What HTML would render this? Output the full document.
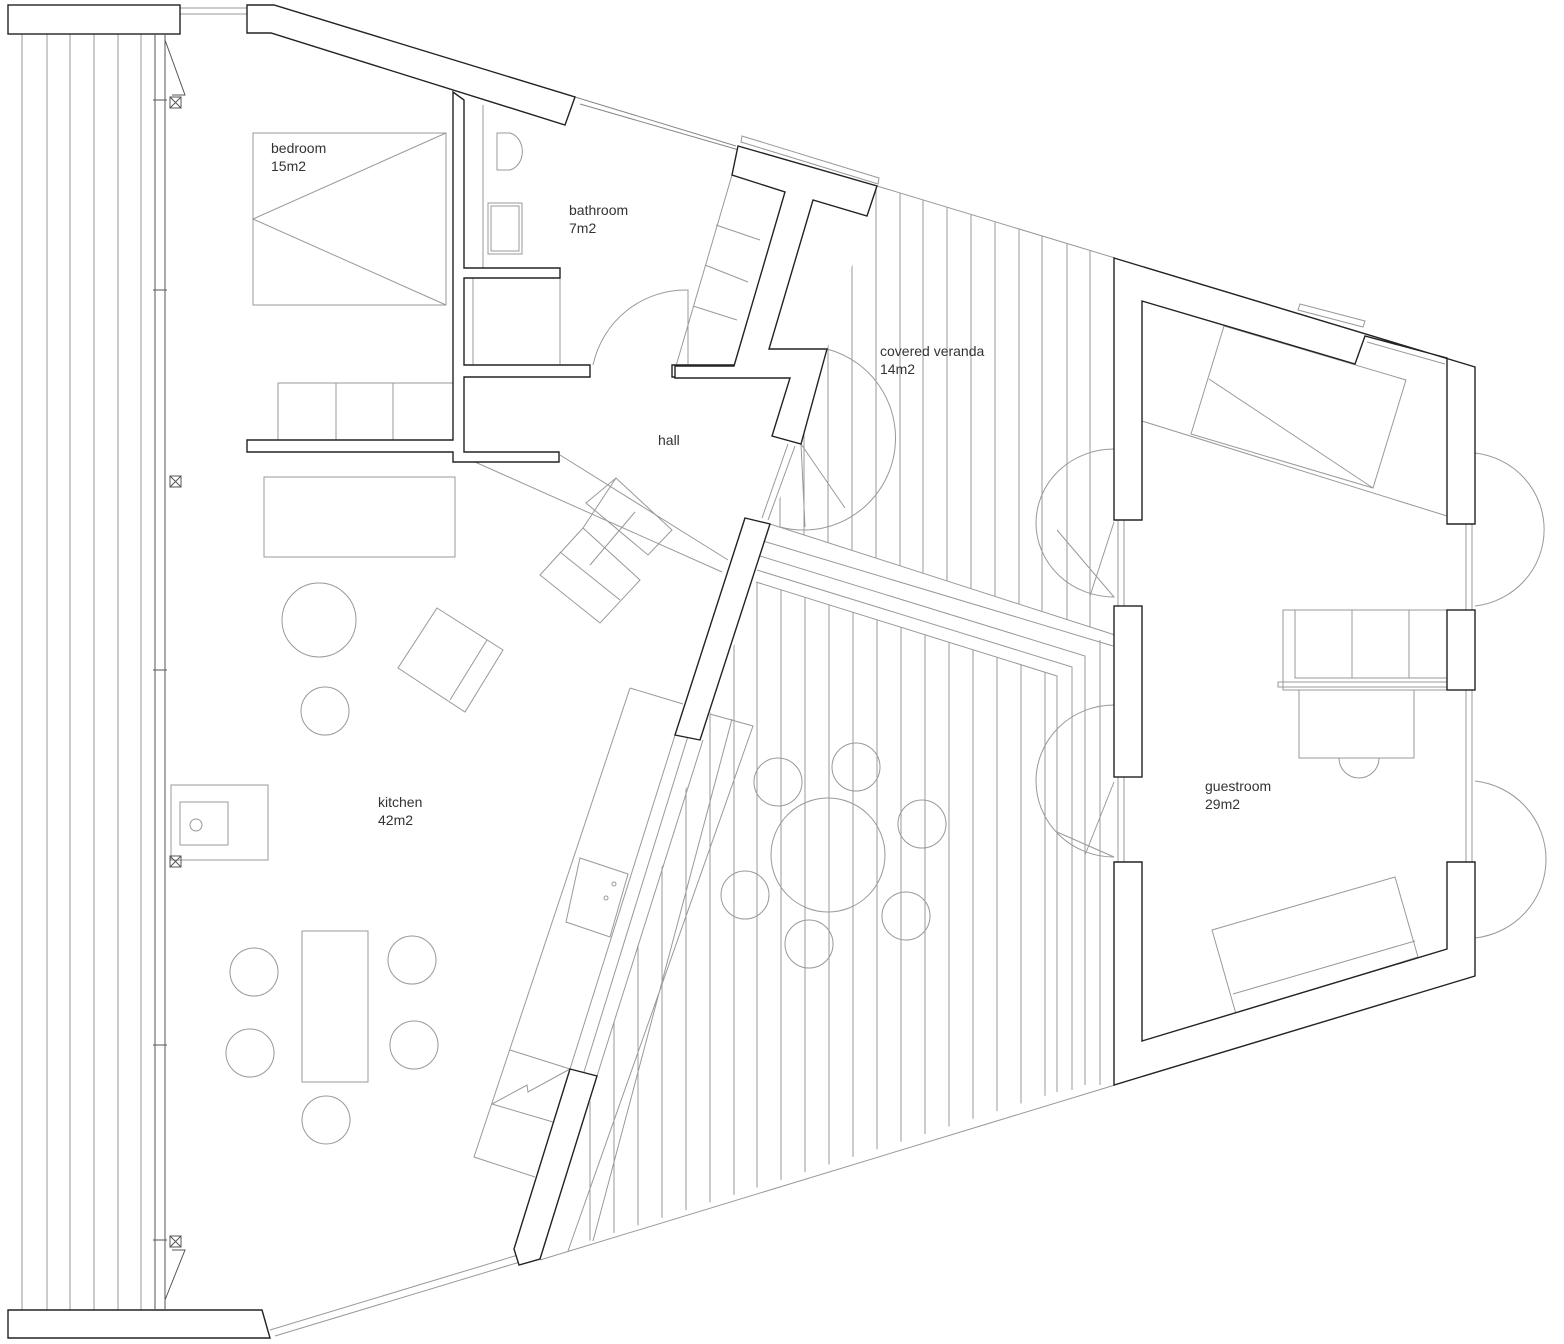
<!DOCTYPE html>
<html><head><meta charset="utf-8"><style>
html,body{margin:0;padding:0;background:#fff}
svg{display:block}
text{font-family:"Liberation Sans",sans-serif;font-size:14px;fill:#333}
</style></head><body>
<svg width="1564" height="1344" viewBox="0 0 1564 1344" xmlns="http://www.w3.org/2000/svg">
<defs>
<clipPath id="upv"><polygon points="877,186 1115,258 1115,635 770,524 800,444 827,349 867,216"/></clipPath>
<clipPath id="lov"><polygon points="756,582 1057,676 1057,1092 545,1255 598,1075 700,742"/></clipPath>
</defs>
<g fill="none" stroke="#999" stroke-width="1">
<g clip-path="url(#upv)">
<path d="M780 150V700M804 150V700M828 150V700M852 150V700M876 150V700M900 150V700M923 150V700M947 150V700M971 150V700M995 150V700M1019 150V700M1042 150V700M1067 150V700M1090 150V700"/>
</g>
<g clip-path="url(#lov)">
<path d="M590 560V1300M614 560V1300M638 560V1300M662 560V1300M686 560V1300M710 560V1300M734 560V1300M757 560V1300M781 560V1300M805 560V1300M829 560V1300M853 560V1300M877 560V1300M901 560V1300M925 560V1300M949 560V1300M973 560V1300M997 560V1300M1021 560V1300M1045 560V1300"/>
</g>
<path d="M877 186L1115 258M770 524L1115 635M763 541L1113 646M760 556L1085 656L1085 1085M757 570L1072 667L1072 1090M756 582L1057 676L1057 1092M540 1260L1115 1085M1100 640V1085"/>
<path d="M736 146L575 97M739 150L580 104" stroke="#888"/>
<path d="M742 136L879 178L878 184L741 142Z"/>
<path d="M1300 304L1365 321L1363 327L1298 310Z"/>
<path d="M22 34V1310M47 34V1310M70 34V1310M94 34V1310M118 34V1310M141 34V1310"/>
<path d="M180 8H247M180 14H247"/>
<path d="M270 1330L518 1255M275 1336L520 1262"/>
<rect x="253" y="133" width="193" height="172"/>
<path d="M446 133L253 219L446 305"/>
<path d="M497 133H510A16 19 0 0 1 510 170H497Z"/>
<rect x="488" y="203" width="34" height="51"/><rect x="491" y="206" width="28" height="45"/>
<path d="M483 105V268"/>
<rect x="473" y="278" width="87" height="87"/>
<path d="M593 365A95 95 0 0 1 688 290V365"/>
<rect x="278" y="383" width="175" height="57"/><path d="M336 383V440M393 383V440"/>
<rect x="250" y="443" width="93" height="7"/>
<path d="M475 462L722 572M560 455L728 560"/>
<polygon points="586,503 616,478 672,530 648,555"/>
<polygon points="540,575 583,528 640,580 600,623"/><path d="M560 552L620 600M616 478L583 528M635 512L590 565"/>
<rect x="264" y="477" width="191" height="80"/>
<circle cx="319" cy="620" r="37"/><circle cx="325" cy="711" r="24"/>
<polygon points="437,608 503,650 465,712 398,668"/><path d="M487 640L450 700"/>
<rect x="171" y="785" width="97" height="75"/><rect x="180" y="802" width="48" height="43"/><circle cx="196" cy="825" r="6"/>
<rect x="302" y="931" width="66" height="151"/>
<circle cx="254" cy="972" r="24"/><circle cx="412" cy="960" r="24"/><circle cx="250" cy="1053" r="24"/><circle cx="414" cy="1045" r="24"/><circle cx="326" cy="1120" r="24"/>
<path d="M630 688L683 704M630 688L474 1157L535 1177"/>
<path d="M676 732L570 1069M688 736L584 1072M703 740L597 1076"/>
<path d="M710 714L753 726L568 1251M732 719L593 1241"/>
<path d="M510 1050L570 1069M492 1104L553 1122M492 1104L527 1085L528 1092L570 1069"/>
<polygon points="580,858 628,874 610,937 566,922"/><circle cx="614" cy="884" r="2"/><circle cx="606" cy="898" r="2"/>
<circle cx="828" cy="855" r="57"/>
<circle cx="778" cy="782" r="24"/><circle cx="856" cy="767" r="24"/><circle cx="922" cy="824" r="24"/><circle cx="745" cy="895" r="24"/><circle cx="906" cy="916" r="24"/><circle cx="809" cy="944" r="24"/>
<path d="M732 175L676 366M716 225L760 240M705 265L748 282M693 306L737 320"/>
<path d="M827 349A90 90 0 0 1 780 527M801 444L805 527M801 444L845 508"/>
<path d="M795 446L768 520M788 444L762 518"/>
<polygon points="1224,326 1406,380 1373,488 1191,434"/><path d="M1209 379L1373 488M1142 421L1447 516"/>
<polygon points="1212,930 1395,877 1418,957 1236,1014"/><path d="M1233 994L1415 941"/>
<rect x="1299" y="690" width="115" height="68"/>
<path d="M1339 758A20 20 0 0 0 1379 758Z"/>
<rect x="1283" y="610" width="164" height="80"/><path d="M1295 610V678H1447M1352 610V678M1409 610V678"/>
<rect x="1278" y="682" width="169" height="5"/>
<path d="M1475 453A78 77 0 0 1 1475 606M1475 781A80 79 0 0 1 1475 938"/>
<path d="M1114 449A78 74 0 0 0 1114 597L1057 530M1114 522L1090 596"/>
<path d="M1114 705A78 76 0 0 0 1114 857L1057 832M1114 782L1085 855"/>
<path d="M1118 520V606M1124 520V606M1118 777V862M1124 777V862M1466 524V610M1472 524V610M1466 690V862M1472 690V862"/>
<path d="M1365 336L1447 358M1367 342L1445 364"/>
</g>
<g fill="#fff" stroke="#222" stroke-width="1.4">
<rect x="8" y="5" width="172" height="29"/>
<polygon points="8,1310 262,1310 270,1338 8,1338"/>
<polygon points="247,5 274,5 575,97 565,125 271,33 247,33"/>
<polygon points="453,92 464,100 464,268 560,268 560,278 464,278 464,365 590,365 590,377 464,377 464,452 559,452 559,462 453,462 453,452 247,452 247,440 453,440"/>
<path d="M672 365H800V377H672Z"/>
<polygon points="738,146 877,186 867,216 813,200 769,349 827,349 801,444 772,436 790,378 675,378 675,366 734,366 785,192 732,175"/>
<polygon points="745,518 770,524 700,740 675,735"/>
<polygon points="570,1069 597,1076 540,1259 519,1265 514,1249"/>
<polygon points="1114,258 1475,367 1475,524 1447,524 1447,358 1365,336 1355,364 1142,301 1142,520 1114,520"/>
<rect x="1114" y="606" width="28" height="171"/>
<rect x="1447" y="610" width="28" height="80"/>
<polygon points="1114,862 1142,862 1142,1041 1447,949 1447,862 1475,862 1475,976 1114,1085"/>
</g>
<g fill="none" stroke="#555" stroke-width="1">
<path d="M155 34V1310M165 34V1310"/>
<path d="M165 40L185 95L172 95"/>
<path d="M165 1300L185 1250L172 1250"/>
<rect x="170" y="97" width="11" height="11"/><path d="M170 97L181 108M181 97L170 108"/>
<rect x="170" y="476" width="11" height="11"/><path d="M170 476L181 487M181 476L170 487"/>
<rect x="170" y="856" width="11" height="11"/><path d="M170 856L181 867M181 856L170 867"/>
<rect x="170" y="1236" width="11" height="11"/><path d="M170 1236L181 1247M181 1236L170 1247"/>
<path d="M153 290H167M153 670H167M153 1045H167M153 100H167M153 1240H167"/>
</g>
<text x="271" y="153">bedroom</text><text x="271" y="171">15m2</text>
<text x="569" y="215">bathroom</text><text x="569" y="233">7m2</text>
<text x="658" y="445">hall</text>
<text x="880" y="356">covered veranda</text><text x="880" y="374">14m2</text>
<text x="378" y="807">kitchen</text><text x="378" y="825">42m2</text>
<text x="1205" y="791">guestroom</text><text x="1205" y="809">29m2</text>
</svg>
</body></html>
